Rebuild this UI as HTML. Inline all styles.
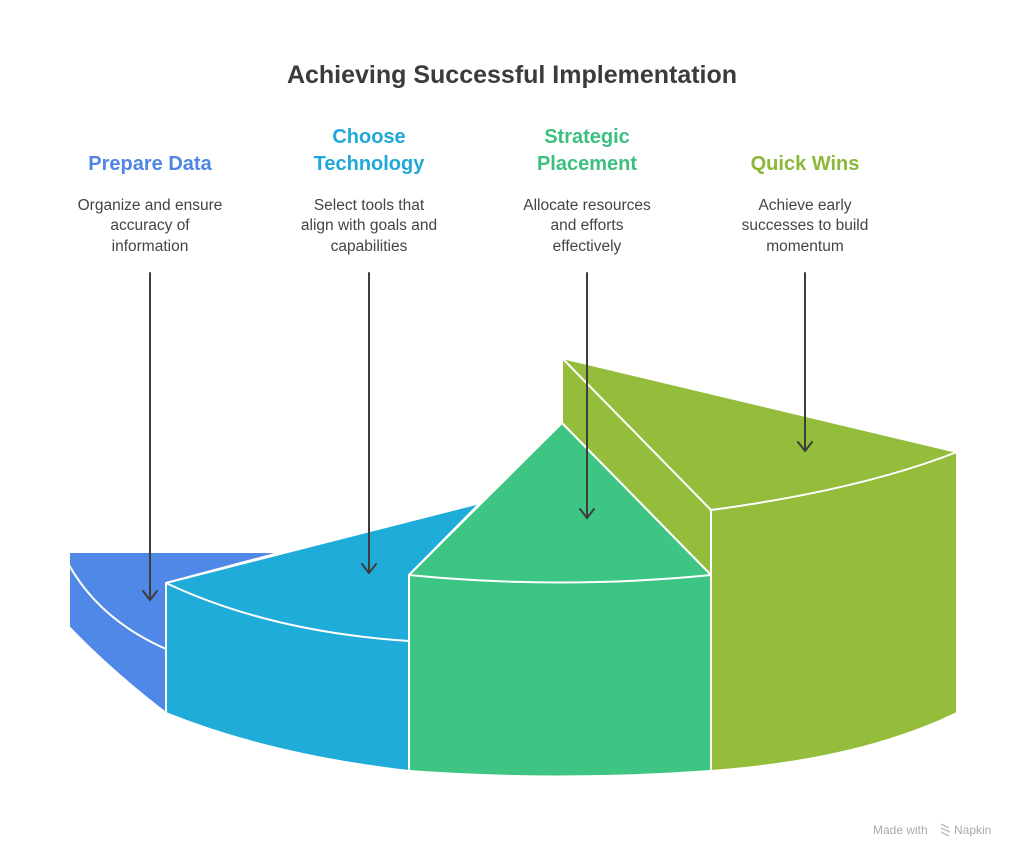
<!DOCTYPE html>
<html><head><meta charset="utf-8"><style>
body{margin:0;background:#fff;}
svg{display:block;font-family:"Liberation Sans",sans-serif;}
</style></head><body>
<svg width="1024" height="861" viewBox="0 0 1024 861">
<text x="512" y="83" text-anchor="middle" font-size="25" font-weight="bold" fill="#3b3b3b">Achieving Successful Implementation</text>
<g font-size="20" font-weight="bold" text-anchor="middle">
<text x="150" y="170" fill="#4f86e4">Prepare Data</text>
<text x="369" y="143" fill="#1fa8d8">Choose</text>
<text x="369" y="170" fill="#1fa8d8">Technology</text>
<text x="587" y="143" fill="#3cbf7f">Strategic</text>
<text x="587" y="170" fill="#3cbf7f">Placement</text>
<text x="805" y="170" fill="#8cb83a">Quick Wins</text>
</g>
<g font-size="15.5" fill="#444" text-anchor="middle">
<text x="150" y="210">Organize and ensure</text><text x="150" y="230">accuracy of</text><text x="150" y="251">information</text>
<text x="369" y="210">Select tools that</text><text x="369" y="230">align with goals and</text><text x="369" y="251">capabilities</text>
<text x="587" y="210">Allocate resources</text><text x="587" y="230">and efforts</text><text x="587" y="251">effectively</text>
<text x="805" y="210">Achieve early</text><text x="805" y="230">successes to build</text><text x="805" y="251">momentum</text>
</g>
<g stroke="#fff" stroke-width="2" stroke-linejoin="round">
<!-- blue -->
<path d="M69,552 L282,552 L166,583 L166,713 Q110,670 69,627 Z" fill="#4f88e6"/>
<path d="M69,565 Q100,620 166,649" fill="none"/>
<!-- cyan -->
<path d="M166,583 L480,503 L409,575 L409,771 Q270,755 166,713 Z" fill="#20acd9"/>
<path d="M166,583 Q270,632 409,641" fill="none"/>
<!-- olive -->
<path d="M562,358 L957,452 L957,713 Q860,760 711,771 L711,575 L562,423 Z" fill="#93bd3b"/>
<path d="M562,358 L711,510 Q860,490 957,452" fill="none"/>
<path d="M711,510 L711,575" fill="none"/>
<!-- green -->
<path d="M562,423 L711,575 L711,771 Q560,782 409,771 L409,575 Z" fill="#3ec584"/>
<path d="M409,575 Q560,590 711,575" fill="none"/>
</g>
<g stroke="#3d3d3d" stroke-width="2" fill="none" stroke-linecap="round">
<path d="M150,273 V600 M143,591 L150,600 L157,591"/>
<path d="M369,273 V573 M362,564 L369,573 L376,564"/>
<path d="M587,273 V518 M580,509 L587,518 L594,509"/>
<path d="M805,273 V451 M798,442 L805,451 L812,442"/>
</g>
<text x="873" y="834" font-size="12" fill="#aaa">Made with</text>
<g stroke="#bbb" stroke-width="1.5" fill="none"><path d="M941,824 l8,4 M941,828 l9,4 M941,832 l8,4"/></g>
<text x="954" y="834" font-size="12" fill="#aaa">Napkin</text>
</svg>
</body></html>
